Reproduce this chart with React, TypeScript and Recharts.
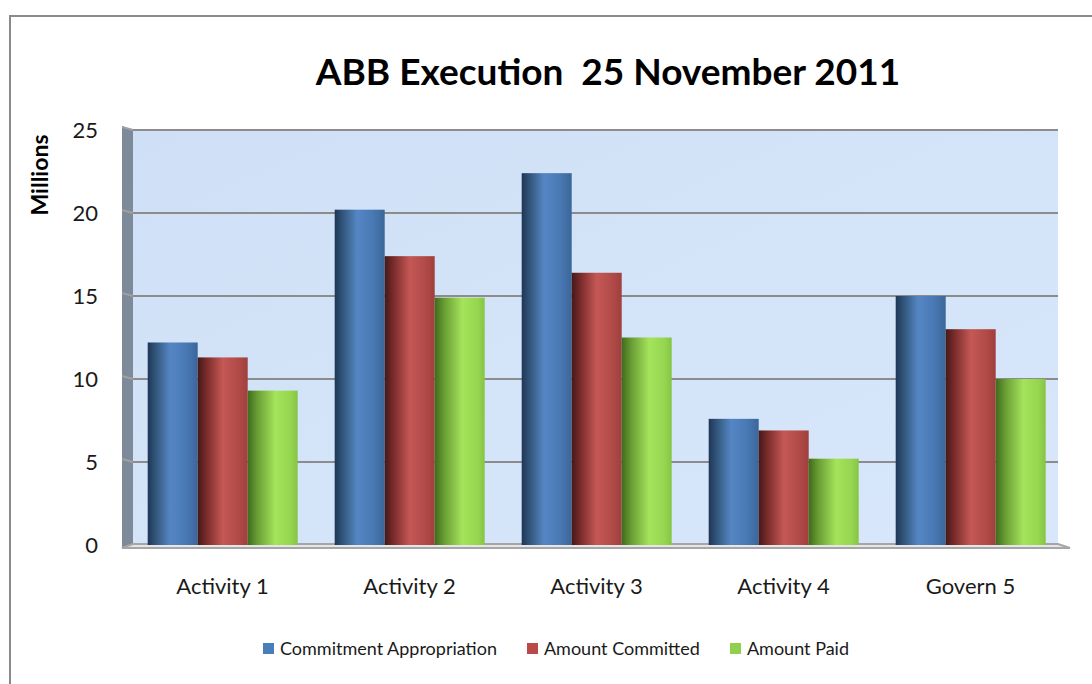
import React from "react";
import { BarChart, Bar, XAxis, YAxis, usePlotArea } from "recharts";

const CATEGORIES = ["Activity 1", "Activity 2", "Activity 3", "Activity 4", "Govern 5"];
const COMMITMENT_APPROPRIATION = [12.2, 20.2, 22.4, 7.6, 15.0];
const AMOUNT_COMMITTED = [11.3, 17.4, 16.4, 6.9, 13.0];
const AMOUNT_PAID = [9.3, 14.9, 12.5, 5.2, 10.0];
const Y_TICKS = [0, 5, 10, 15, 20, 25];

const SERIES = [
  { key: "appropriation", name: "Commitment Appropriation", color: "#4a7ebb", grad: "gBlue" },
  { key: "committed", name: "Amount Committed", color: "#b94a47", grad: "gRed" },
  { key: "paid", name: "Amount Paid", color: "#8fd14f", grad: "gGreen" },
];

const data = CATEGORIES.map((c, i) => ({
  name: c,
  appropriation: COMMITMENT_APPROPRIATION[i],
  committed: AMOUNT_COMMITTED[i],
  paid: AMOUNT_PAID[i],
}));

const FONT = "Lato, 'Open Sans', sans-serif";

// back wall, side wall, floor and gridlines (the front is a bit wider than the back wall)
function Walls() {
  const plot = usePlotArea();
  if (!plot) return null;
  const { y, height: h } = plot;
  const x = plot.x + 4;
  const w = plot.width - 10;
  const maxV = Y_TICKS[Y_TICKS.length - 1];
  return (
    <g>
      <defs>
        <linearGradient id="gBlue" x1="0" y1="0" x2="1" y2="0">
          <stop offset="0" stopColor="#1e3656" />
          <stop offset="0.18" stopColor="#34597f" />
          <stop offset="0.45" stopColor="#5586c4" />
          <stop offset="0.75" stopColor="#4a7ab5" />
          <stop offset="1" stopColor="#3b6699" />
        </linearGradient>
        <linearGradient id="gRed" x1="0" y1="0" x2="1" y2="0">
          <stop offset="0" stopColor="#451919" />
          <stop offset="0.18" stopColor="#7a2c2b" />
          <stop offset="0.5" stopColor="#c45855" />
          <stop offset="0.8" stopColor="#b24b48" />
          <stop offset="1" stopColor="#a03f3d" />
        </linearGradient>
        <linearGradient id="gGreen" x1="0" y1="0" x2="1" y2="0">
          <stop offset="0" stopColor="#3f6b1c" />
          <stop offset="0.2" stopColor="#6a9f35" />
          <stop offset="0.55" stopColor="#a4e35b" />
          <stop offset="0.85" stopColor="#96d650" />
          <stop offset="1" stopColor="#86c545" />
        </linearGradient>
        <linearGradient id="gWall" x1="0" y1="0" x2="1" y2="1">
          <stop offset="0" stopColor="#cfe0f6" />
          <stop offset="1" stopColor="#d8e7fb" />
        </linearGradient>
      </defs>
      <rect x={x} y={y} width={w} height={h} fill="url(#gWall)" />
      <polygon
        points={`${x - 11},${y - 4} ${x},${y} ${x},${y + h} ${x - 11},${y + h + 3}`}
        fill="#7d8a99"
      />
      {Y_TICKS.map((t) => {
        const ty = y + h - (t / maxV) * h;
        return (
          <g key={t}>
            <line x1={x - 11} y1={ty - 3 + (t === 0 ? 6 : 0)} x2={x} y2={ty} stroke="#a0a0a0" strokeWidth={2} />
            {t > 0 && <line x1={x} y1={ty} x2={x + w} y2={ty} stroke="#8c8c8c" strokeWidth={2} />}
          </g>
        );
      })}
      <polygon
        points={`${x - 11},${y + h + 3} ${x},${y + h - 1} ${x + w},${y + h - 1} ${x + w + 12},${y + h + 3}`}
        fill="#e6e6e6"
        stroke="#a6a6a6"
        strokeWidth={2}
      />
    </g>
  );
}

function CylBar(props: any) {
  const { x, y, width, height, grad } = props;
  if (!height || height <= 0) return null;
  return <rect x={x} y={y} width={width} height={height} fill={`url(#${grad})`} />;
}

export default function App() {
  return (
    <div style={{ position: "fixed", left: 0, top: 0, width: 1092, height: 684, background: "#fff", overflow: "hidden" }}>
      <div
        style={{
          position: "absolute",
          left: 9,
          top: 15,
          width: 1200,
          height: 800,
          borderLeft: "2px solid #8a8a8a",
          borderTop: "2px solid #8a8a8a",
        }}
      />
      <div
        style={{
          position: "absolute",
          left: 0,
          width: 1216,
          top: 48,
          textAlign: "center",
          fontFamily: FONT,
          fontWeight: 700,
          fontSize: 37,
          color: "#000",
          whiteSpace: "pre",
        }}
      >
        {"ABB Execution  25 November 2011"}
      </div>
      <div
        style={{
          position: "absolute",
          left: 39,
          top: 175,
          transform: "translate(-50%, -50%) rotate(-90deg)",
          fontFamily: FONT,
          fontWeight: 700,
          fontSize: 23,
          color: "#000",
          whiteSpace: "nowrap",
        }}
      >
        Millions
      </div>
      <div style={{ position: "absolute", left: 0, top: 0 }}>
        <BarChart
          width={1092}
          height={684}
          data={data}
          margin={{ top: 130, right: 28, bottom: 109, left: 69 }}
          barCategoryGap="10%"
          barGap={0}
        >
          <Walls />
          <XAxis
            dataKey="name"
            axisLine={false}
            tickLine={false}
            tickMargin={27}
            tick={{ fill: "#1a1a1a", fontSize: 22, fontFamily: FONT }}
          />
          <YAxis
            width={60}
            domain={[0, 25]}
            ticks={Y_TICKS}
            axisLine={false}
            tickLine={false}
            tickMargin={25}
            tick={{ fill: "#1a1a1a", fontSize: 22, fontFamily: FONT }}
          />
          {SERIES.map((s) => (
            <Bar
              key={s.key}
              dataKey={s.key}
              name={s.name}
              fill={s.color}
              isAnimationActive={false}
              shape={(p: any) => <CylBar {...p} grad={s.grad} />}
            />
          ))}
        </BarChart>
      </div>
      <div
        style={{
          position: "absolute",
          top: 637,
          left: 0,
          width: 1112,
          display: "flex",
          justifyContent: "center",
          gap: 30,
          fontFamily: FONT,
          fontSize: 18,
          color: "#1a1a1a",
        }}
      >
        {SERIES.map((s) => (
          <span key={s.key} style={{ display: "inline-flex", alignItems: "center", gap: 6 }}>
            <span style={{ width: 11, height: 11, background: s.color, display: "inline-block" }} />
            {s.name}
          </span>
        ))}
      </div>
    </div>
  );
}
